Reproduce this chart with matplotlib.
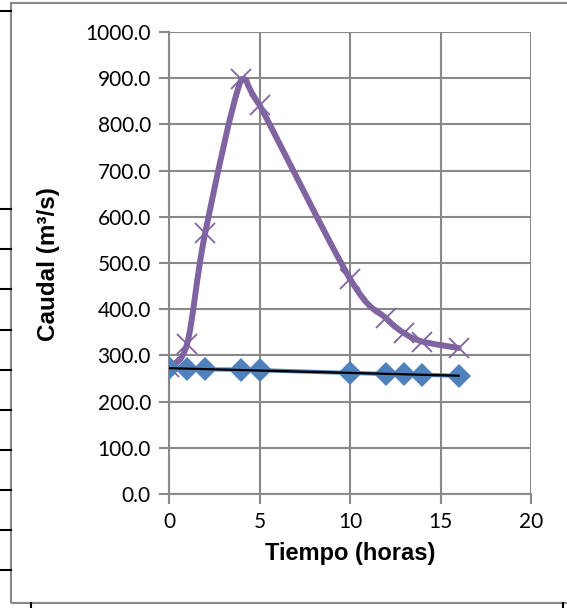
import numpy as np
import matplotlib.pyplot as plt
from matplotlib.path import Path
from matplotlib.patches import PathPatch, Rectangle
from matplotlib.lines import Line2D

# Data
tiempo = [0, 1, 2, 4, 5, 10, 12, 13, 14, 16]
caudal_entrada = [275, 325, 565, 898, 842, 466, 380, 348, 330, 316]
caudal_base = [272, 271, 270, 269, 268, 262, 260, 259, 258, 256]

purple = '#8064A2'
blue = '#4F81BD'
grid_gray = '#898989'

fig = plt.figure(figsize=(5.67, 6.08), dpi=100)
ax = fig.add_axes([169 / 567, 1 - 494 / 608, 362 / 567, 462 / 608])

# Smooth line through the points (Excel-style), built as cubic Bezier segments
x = np.array(tiempo, float)
y = np.array(caudal_entrada, float)
verts = [(x[0], y[0])]
codes = [Path.MOVETO]
n = len(x)
for i in range(n - 1):
    p0 = (x[max(i - 1, 0)], y[max(i - 1, 0)])
    p1 = (x[i], y[i])
    p2 = (x[i + 1], y[i + 1])
    p3 = (x[min(i + 2, n - 1)], y[min(i + 2, n - 1)])
    c1 = [p1[0] + (p2[0] - p0[0]) / 6, p1[1] + (p2[1] - p0[1]) / 6]
    c2 = [p2[0] - (p3[0] - p1[0]) / 6, p2[1] - (p3[1] - p1[1]) / 6]
    lo, hi = min(p1[1], p2[1]), max(p1[1], p2[1])
    c1[1] = min(max(c1[1], lo), hi)
    c2[1] = min(max(c2[1], lo), hi)
    verts += [tuple(c1), tuple(c2), p2]
    codes += [Path.CURVE4] * 3
ax.add_patch(PathPatch(Path(verts, codes), facecolor='none', edgecolor=purple,
                       lw=4.3, zorder=3, capstyle='round', joinstyle='round'))
ax.plot(tiempo, caudal_entrada, linestyle='none', marker='x', color=purple,
        markersize=14, markeredgewidth=1.3, zorder=4)

# Base flow series with its linear trendline
ax.plot(tiempo, caudal_base, color=blue, lw=3, marker='D', markersize=12.5,
        markeredgewidth=0, zorder=5)
coef = np.polyfit(tiempo, caudal_base, 1)
xt = np.array([tiempo[0], tiempo[-1]])
ax.plot(xt, np.polyval(coef, xt), color='black', lw=1.6, zorder=6)

ax.set_xlim(0, 20)
ax.set_ylim(0, 1000)
ax.set_xticks(range(0, 21, 5))
ax.set_yticks(range(0, 1001, 100))
ax.set_yticklabels(['%.1f' % v for v in range(0, 1001, 100)])
ax.grid(True, color=grid_gray, lw=1.5)
ax.set_axisbelow(True)
for s in ['top', 'right']:
    ax.spines[s].set_visible(False)
for s in ['left', 'bottom']:
    ax.spines[s].set_color(grid_gray)
    ax.spines[s].set_linewidth(1.5)
ax.tick_params(colors=grid_gray, length=7, width=1.5, labelcolor='black',
               labelsize=15, pad=6)
for lab in ax.get_xticklabels() + ax.get_yticklabels():
    lab.set_family('Lato')

ax.set_xlabel('Tiempo (horas)', fontsize=17, fontweight='bold',
              family='Liberation Sans', labelpad=7)
ax.set_ylabel('Caudal (m³/s)', fontsize=17.5, fontweight='bold',
              family='Liberation Sans')
ax.yaxis.set_label_coords(60 / 567, 1 - 264 / 608, transform=fig.transFigure)

# Chart area border and the sheet cell lines around it
fig.patches.append(Rectangle((11 / 567, 1 - 603 / 608), 1.0, 600 / 608,
                             transform=fig.transFigure, fill=False,
                             edgecolor=grid_gray, lw=1.5))
for yy in [11, 209, 249, 289, 330, 370, 410, 450, 490, 530, 570]:
    fig.add_artist(Line2D([0, 11 / 567], [1 - yy / 608] * 2, color='black',
                          lw=1.5, transform=fig.transFigure))
for xx in [31, 563]:
    fig.add_artist(Line2D([xx / 567] * 2, [0, 1 - 603 / 608], color='black',
                          lw=1.5, transform=fig.transFigure))

fig.savefig('out.png', dpi=100)
